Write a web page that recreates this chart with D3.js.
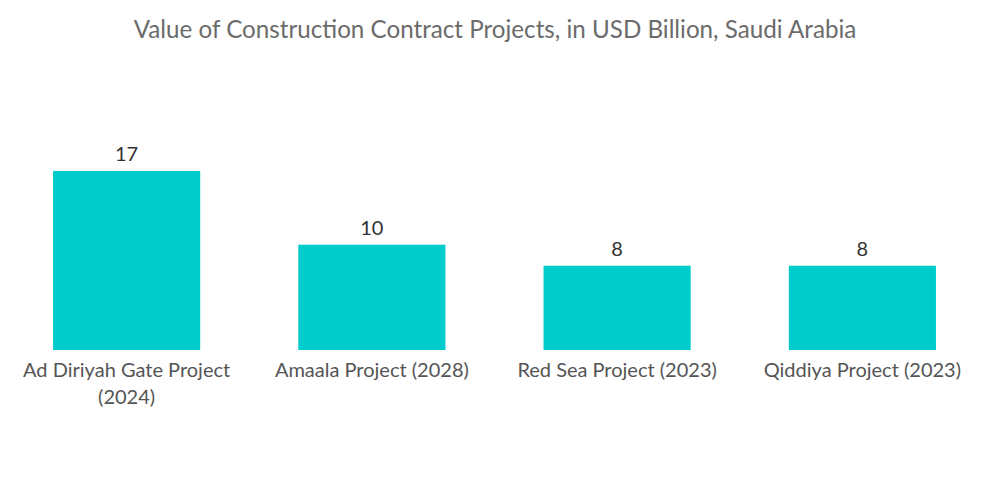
<!DOCTYPE html>
<html><head><meta charset="utf-8">
<script src="https://cdn.jsdelivr.net/npm/d3@7"></script>
<style>body{margin:0;background:#fff}svg{display:block}</style>
</head><body>
<script>
const categories = ["Ad Diriyah Gate Project (2024)", "Amaala Project (2028)", "Red Sea Project (2023)", "Qiddiya Project (2023)"];
const labelLines = [["Ad Diriyah Gate Project", "(2024)"], ["Amaala Project (2028)"], ["Red Sea Project (2023)"], ["Qiddiya Project (2023)"]];
const values = [17, 10, 8, 8];
const title = "Value of Construction Contract Projects, in USD Billion, Saudi Arabia";

const W = 1000, H = 504;
const svg = d3.select("body").append("svg").attr("width", W).attr("height", H);
const font = "Lato, 'Open Sans', sans-serif";

svg.append("text").attr("x", 495).attr("y", 38).attr("text-anchor", "middle")
  .attr("font-family", font).attr("font-size", 24.2).attr("fill", "#6b6b6b").text(title);

const x = d3.scaleBand().domain(categories).range([4, 985]).paddingInner(0.4).paddingOuter(0.2);
const y = d3.scaleLinear().domain([0, 17]).range([350, 171]);

svg.selectAll("rect.bar").data(values).join("rect").attr("class", "bar")
  .attr("x", (d, i) => x(categories[i])).attr("width", x.bandwidth())
  .attr("y", d => y(d)).attr("height", d => y(0) - y(d)).attr("fill", "#00cccc");

svg.selectAll("text.val").data(values).join("text").attr("class", "val")
  .attr("x", (d, i) => x(categories[i]) + x.bandwidth() / 2).attr("y", d => y(d) - 10)
  .attr("text-anchor", "middle").attr("font-family", font).attr("font-size", 20).attr("fill", "#333")
  .text(d => d);

const lab = svg.selectAll("text.cat").data(categories).join("text").attr("class", "cat")
  .attr("x", d => x(d) + x.bandwidth() / 2).attr("y", 377)
  .attr("text-anchor", "middle").attr("font-family", font).attr("font-size", 20).attr("fill", "#555");
lab.each(function(d, i) {
  d3.select(this).selectAll("tspan").data(labelLines[i]).join("tspan")
    .attr("x", x(d) + x.bandwidth() / 2).attr("dy", (t, j) => j === 0 ? 0 : 27).text(t => t);
});
</script>
</body></html>
